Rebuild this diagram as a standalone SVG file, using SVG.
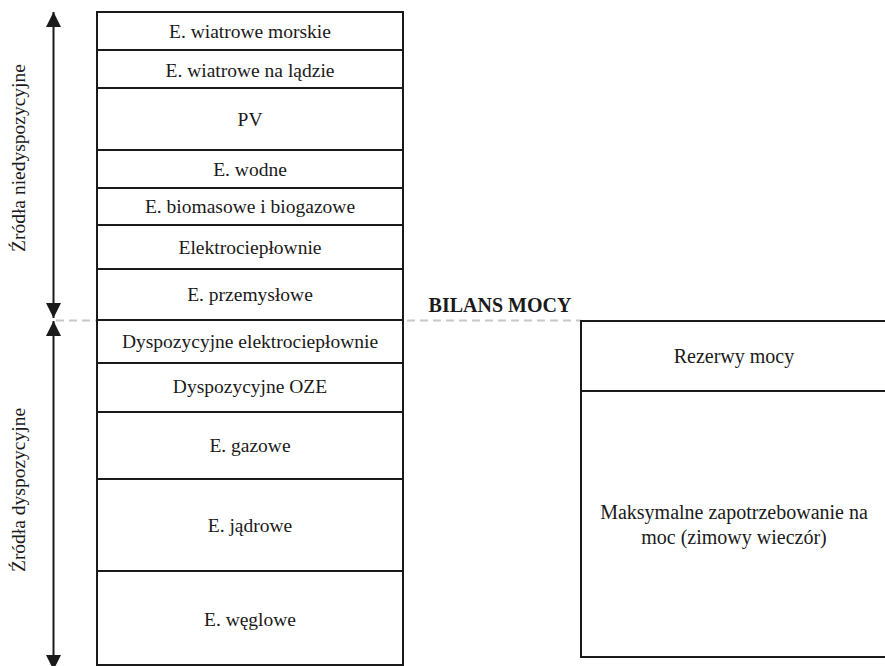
<svg xmlns="http://www.w3.org/2000/svg" width="885" height="666" viewBox="0 0 885 666">
<style>
.box{fill:#fff;stroke:#1a1a1a;stroke-width:2}
text{font-family:'Liberation Serif','Times New Roman',serif;fill:#1a1a1a;text-anchor:middle}
.t{font-size:19.5px}
.tr{font-size:20px}
.b{font-size:20px;font-weight:bold}
.ar{stroke:#1a1a1a;stroke-width:2;fill:none}
.dash{stroke:#c8c8c8;stroke-width:2;stroke-dasharray:8 5;fill:none}
</style>
<defs>
<marker id="ah" viewBox="0 0 15 15" refX="15" refY="7.5" markerUnits="userSpaceOnUse" markerWidth="15" markerHeight="15" orient="auto-start-reverse">
<path d="M0,0 L15,7.5 L0,15 Z" fill="#1a1a1a"/>
</marker>
</defs>
<g id="connectors">
<line class="dash" x1="56" y1="320.5" x2="581" y2="320.5"/>
<line class="ar" x1="53.5" y1="12" x2="53.5" y2="318" marker-start="url(#ah)" marker-end="url(#ah)"/>
<line class="ar" x1="53.5" y1="321" x2="53.5" y2="670" marker-start="url(#ah)" marker-end="url(#ah)"/>
</g>
<g id="label-niedysp"><text class="t" transform="translate(25,158) rotate(-90)">Źródła niedyspozycyjne</text></g>
<g id="label-dysp"><text class="t" transform="translate(25,490) rotate(-90)">Źródła dyspozycyjne</text></g>
<g id="n1"><rect class="box" x="97" y="12" width="306" height="38"/><text class="t" x="250" y="38">E. wiatrowe morskie</text></g>
<g id="n2"><rect class="box" x="97" y="50" width="306" height="38"/><text class="t" x="250" y="77">E. wiatrowe na lądzie</text></g>
<g id="n3"><rect class="box" x="97" y="88" width="306" height="62"/><text class="t" x="250" y="126">PV</text></g>
<g id="n4"><rect class="box" x="97" y="150" width="306" height="38"/><text class="t" x="250" y="176">E. wodne</text></g>
<g id="n5"><rect class="box" x="97" y="188" width="306" height="37"/><text class="t" x="250" y="213">E. biomasowe i biogazowe</text></g>
<g id="n6"><rect class="box" x="97" y="225" width="306" height="44"/><text class="t" x="250" y="254">Elektrociepłownie</text></g>
<g id="n7"><rect class="box" x="97" y="269" width="306" height="51"/><text class="t" x="250" y="301">E. przemysłowe</text></g>
<g id="n8"><rect class="box" x="97" y="320" width="306" height="43"/><text class="t" x="250" y="348">Dyspozycyjne elektrociepłownie</text></g>
<g id="n9"><rect class="box" x="97" y="363" width="306" height="49"/><text class="t" x="250" y="393">Dyspozycyjne OZE</text></g>
<g id="n10"><rect class="box" x="97" y="412" width="306" height="67"/><text class="t" x="250" y="452">E. gazowe</text></g>
<g id="n11"><rect class="box" x="97" y="479" width="306" height="92"/><text class="t" x="250" y="532">E. jądrowe</text></g>
<g id="n12"><rect class="box" x="97" y="571" width="306" height="94"/><text class="t" x="250" y="626">E. węglowe</text></g>
<g id="bilans"><text class="b" x="500" y="312">BILANS MOCY</text></g>
<g id="r1"><rect class="box" x="581" y="321" width="320" height="70"/><text class="tr" x="734" y="363">Rezerwy mocy</text></g>
<g id="r2"><rect class="box" x="581" y="391" width="320" height="266"/><text class="tr" x="734" y="519">Maksymalne zapotrzebowanie na</text><text class="tr" x="734" y="544">moc (zimowy wieczór)</text></g>
</svg>
